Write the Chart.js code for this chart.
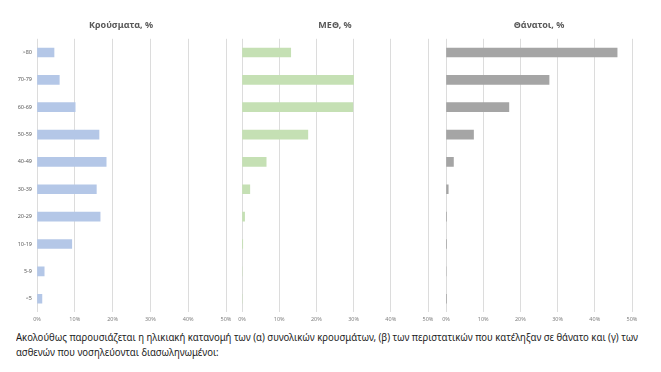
<!DOCTYPE html>
<html>
<head>
<meta charset="utf-8">
<script src="https://cdn.jsdelivr.net/npm/chart.js@4"></script>
<style>
  body { margin: 0; background: #fff; width: 661px; height: 372px; overflow: hidden; position: relative; font-family: "Noto Sans", sans-serif; }
  .panel { position: absolute; top: 0; }
  #note { position: absolute; left: 16px; top: 330px; font-size: 10.5px; line-height: 15px; color: #1c1c1c; white-space: nowrap; transform-origin: 0 0; }
</style>
</head>
<body>
<div class="panel" style="left:16px"><canvas id="chart_cases" width="220" height="330"></canvas></div>
<div class="panel" style="left:232px"><canvas id="chart_icu" width="206" height="330"></canvas></div>
<div class="panel" style="left:436px"><canvas id="chart_deaths" width="206" height="330"></canvas></div>
<div id="note"><span id="line1">Ακολούθως παρουσιάζεται η ηλικιακή κατανομή των (α) συνολικών κρουσμάτων, (β) των περιστατικών που κατέληξαν σε θάνατο και (γ) των</span><br><span>ασθενών που νοσηλεύονται διασωληνωμένοι:</span></div>
<script>
// age groups, top to bottom
const ageGroups = ['>80', '70-79', '60-69', '50-59', '40-49', '30-39', '20-29', '10-19', '5-9', '<5'];
// values in %
const cases  = [4.5, 5.9, 10.1, 16.4, 18.3, 15.7, 16.7, 9.2, 1.9, 1.3];
const icu    = [13.1, 30.0, 29.8, 17.7, 6.5, 2.1, 0.7, 0.2, 0, 0];
const deaths = [46.0, 27.7, 16.9, 7.4, 2.0, 0.6, 0.15, 0.15, 0, 0.15];
const xTicks = [0, 10, 20, 30, 40, 50];

function makePanel(id, title, values, color, showLabels) {
  const ctx = document.getElementById(id).getContext('2d');
  return new Chart(ctx, {
    type: 'bar',
    data: {
      labels: ageGroups,
      datasets: [{
        label: title,
        data: values,
        backgroundColor: color,
        barThickness: 9
      }]
    },
    options: {
      indexAxis: 'y',
      responsive: false,
      animation: false,
      layout: { padding: { left: showLabels ? 0 : 10, right: 10, top: 0, bottom: 3 } },
      scales: {
        x: {
          min: 0,
          max: 50,
          afterBuildTicks: s => { s.ticks = xTicks.map(v => ({ value: v })); },
          grid: { color: '#dcdcdc', drawTicks: false },
          border: { display: false },
          ticks: { callback: v => v + '%', font: { size: 5.5, family: 'Noto Sans' }, color: '#7f7f7f', padding: 4, maxRotation: 0 }
        },
        y: {
          display: showLabels,
          grid: { display: false, drawTicks: false },
          border: { display: false },
          afterFit: s => { s.width = showLabels ? 21 : 0; },
          ticks: { font: { size: 5.5, family: 'Noto Sans' }, color: '#595959', padding: 5 }
        }
      },
      plugins: {
        legend: { display: false },
        tooltip: { enabled: false },
        title: {
          display: true,
          text: title,
          color: '#595959',
          font: { size: 9, weight: 'bold', family: 'Noto Sans' },
          padding: { top: 20, bottom: 8 }
        }
      }
    }
  });
}

makePanel('chart_cases', 'Κρούσματα, %', cases, '#b4c7e7', true);
makePanel('chart_icu', 'ΜΕΘ, %', icu, '#c5e0b4', false);
makePanel('chart_deaths', 'Θάνατοι, %', deaths, '#a5a5a5', false);

// squeeze the caption so the first line spans the same width as the original
const line1 = document.getElementById('line1');
const w = line1.getBoundingClientRect().width;
document.getElementById('note').style.transform = 'scaleX(' + (622 / w) + ')';
</script>
</body>
</html>
